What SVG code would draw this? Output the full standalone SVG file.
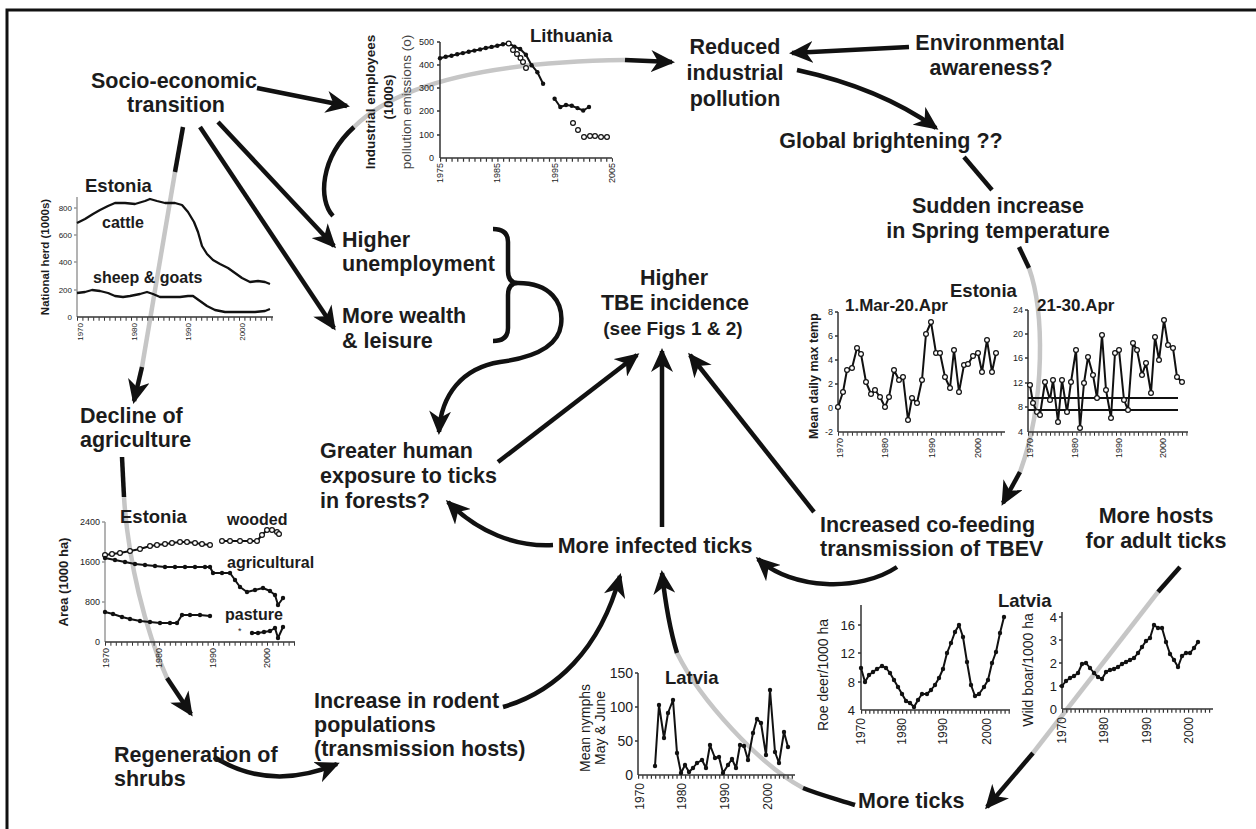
<svg xmlns="http://www.w3.org/2000/svg" width="1256" height="829" viewBox="0 0 1256 829">
<style>
text{font-family:'Liberation Sans',Arial,Helvetica,sans-serif;fill:#1c1c1c}
.n{font-size:21.5px;font-weight:bold}
.m{text-anchor:middle}
.e{text-anchor:end}
.ct{font-size:18.5px;font-weight:bold}
.sl{font-size:16px;font-weight:bold}
.t8{font-size:8px}
.t9{font-size:9px}
.t12{font-size:12px}
.t13{font-size:13px}
.t14{font-size:14px}
.b{font-weight:bold}
.k{fill:none;stroke:#111;stroke-width:4.5}
.g{fill:none;stroke:#c6c6c6;stroke-width:4.5}
.ax{fill:none;stroke:#333;stroke-width:1.5}
.axg{fill:none;stroke:#9a9a9a;stroke-width:1.5}
.tick{fill:none;stroke:#333;stroke-width:3.5}
.s{fill:none;stroke:#111;stroke-width:2.3;stroke-linejoin:round}
.sd{fill:none;stroke:#111;stroke-width:2;stroke-linejoin:round;marker-start:url(#dot);marker-mid:url(#dot);marker-end:url(#dot)}
.sr{fill:none;stroke:#111;stroke-width:2;stroke-linejoin:round;marker-start:url(#ring);marker-mid:url(#ring);marker-end:url(#ring)}
.ro{fill:none;stroke:none;marker-start:url(#ring);marker-mid:url(#ring);marker-end:url(#ring)}
</style>
<defs>
<marker id="ah" markerUnits="userSpaceOnUse" markerWidth="24" markerHeight="22" viewBox="0 0 24 22" refX="21" refY="11" orient="auto"><path d="M0,0 L24,11 L0,22 L7,11 z" fill="#111"/></marker>
<marker id="dot" markerUnits="userSpaceOnUse" markerWidth="6" markerHeight="6" viewBox="-3 -3 6 6" refX="0" refY="0"><circle r="2.2" fill="#111"/></marker>
<marker id="ring" markerUnits="userSpaceOnUse" markerWidth="8" markerHeight="8" viewBox="-4 -4 8 8" refX="0" refY="0"><circle r="2.4" fill="#fff" stroke="#111" stroke-width="1.2"/></marker>
</defs>

<g id="frame"><path d="M7,829 V10 H1256" fill="none" stroke="#111" stroke-width="3"/></g>

<g id="connectors">
<path class="g" d="M175,172 L142,367"/>
<path class="g" d="M354,127 C395,86 480,62 625,60"/>
<path class="g" d="M1029,268 C1044,310 1046,400 1020,472"/>
<path class="g" d="M124,497 C128,560 145,630 167,678"/>
<path class="g" d="M803,788 C760,765 700,700 677,653"/>
<path class="g" d="M1158,592 L1033,753"/>
<path class="k" d="M257,88 L347,106" marker-end="url(#ah)"/>
<path class="k" d="M183,127 L175,172"/>
<path class="k" d="M142,367 L134,401" marker-end="url(#ah)"/>
<path class="k" d="M218,122 L334,246" marker-end="url(#ah)"/>
<path class="k" d="M200,127 L334,328" marker-end="url(#ah)"/>
<path class="k" d="M333,216 C318,200 320,158 354,127"/>
<path class="k" d="M625,60 L672,62" marker-end="url(#ah)"/>
<path class="k" d="M909,47 L792,53" marker-end="url(#ah)"/>
<path class="k" d="M797,70 Q880,88 936,128" marker-end="url(#ah)"/>
<path class="k" d="M964,157 L992,190"/>
<path class="k" d="M1019,247 L1029,268"/>
<path class="k" d="M1020,472 L1003,503" marker-end="url(#ah)"/>
<path class="k" d="M493,229 Q508,229 508,242 V271 Q508,283 518,283 Q508,283 508,295 V328 Q508,341 493,341" stroke-width="4"/>
<path class="k" d="M518,283 C550,283 564,302 561,325 C558,348 530,358 500,362 C462,368 441,395 439,432" marker-end="url(#ah)"/>
<path class="k" d="M498,462 L637,355" marker-end="url(#ah)"/>
<path class="k" d="M662,527 L662,351" marker-end="url(#ah)"/>
<path class="k" d="M814,512 L690,355" marker-end="url(#ah)"/>
<path class="k" d="M553,545 C515,547 478,532 448,502" marker-end="url(#ah)"/>
<path class="k" d="M897,567 C860,592 792,590 758,559" marker-end="url(#ah)"/>
<path class="k" d="M503,707 C555,692 600,650 620,576" marker-end="url(#ah)"/>
<path class="k" d="M855,805 C840,800 820,795 803,788"/>
<path class="k" d="M677,653 C670,630 665,600 662,573" marker-end="url(#ah)"/>
<path class="k" d="M1180,567 L1158,592"/>
<path class="k" d="M1033,753 L987,807" marker-end="url(#ah)"/>
<path class="k" d="M122,457 L124,497"/>
<path class="k" d="M167,678 L191,714" marker-end="url(#ah)"/>
<path class="k" d="M214,757 Q270,792 337,764" marker-end="url(#ah)"/>
</g>

<g id="chart-cattle">
<path class="axg" d="M77,197 V317 M74,208 H77 M74,235 H77 M74,262 H77 M74,290 H77"/>
<path class="ax" d="M77,317 H273"/>
<path class="tick" d="M77,319 H273" stroke-dasharray="1 4.4"/>
<text class="t8 e" x="72" y="211">800</text>
<text class="t8 e" x="72" y="238">600</text>
<text class="t8 e" x="72" y="265">400</text>
<text class="t8 e" x="72" y="293">200</text>
<text class="t8 e" x="72" y="320">0</text>
<text class="t8 e" transform="translate(80,323) rotate(-90)" dy="0.35em">1970</text>
<text class="t8 e" transform="translate(134,323) rotate(-90)" dy="0.35em">1980</text>
<text class="t8 e" transform="translate(188,323) rotate(-90)" dy="0.35em">1990</text>
<text class="t8 e" transform="translate(242,323) rotate(-90)" dy="0.35em">2000</text>
<text class="b m" font-size="11.5" transform="translate(45,257) rotate(-90)" dy="0.35em">National herd (1000s)</text>
<text class="ct" x="85" y="192">Estonia</text>
<text class="sl" x="102" y="228">cattle</text>
<text class="sl" x="93" y="283">sheep &amp; goats</text>
<polyline class="s" stroke-width="2.6" points="77,223 85,219 93,214 100,210 108,206 115,203 125,203 135,204 145,201 150,199 157,201 165,203 175,203 182,205 188,212 194,222 198,232 202,246 207,254 213,260 220,264 228,268 235,273 242,278 250,282 258,281 265,282 270,284"/>
<polyline class="s" stroke-width="2.6" points="77,293 85,292 92,290 100,291 108,293 115,296 123,297 130,296 140,294 147,292 153,294 160,297 170,297 180,297 188,296 193,296 200,301 207,306 215,310 225,312 240,312 255,312 265,311 270,309"/>
</g>

<g id="chart-land">
<path class="axg" d="M105,522 V642 M102,522 H105 M102,562 H105 M102,602 H105"/>
<path class="ax" d="M105,642 H295"/>
<path class="tick" d="M105,644 H295" stroke-dasharray="1 4.4"/>
<text class="t9 e" x="100" y="525">2400</text>
<text class="t9 e" x="100" y="565">1600</text>
<text class="t9 e" x="100" y="605">800</text>
<text class="t9 e" x="100" y="645">0</text>
<text class="t9 e" transform="translate(106,648) rotate(-90)" dy="0.35em">1970</text>
<text class="t9 e" transform="translate(159,648) rotate(-90)" dy="0.35em">1980</text>
<text class="t9 e" transform="translate(213,648) rotate(-90)" dy="0.35em">1990</text>
<text class="t9 e" transform="translate(267,648) rotate(-90)" dy="0.35em">2000</text>
<text class="b m" font-size="13" transform="translate(63,582) rotate(-90)" dy="0.35em">Area (1000 ha)</text>
<text class="ct" x="120" y="523">Estonia</text>
<text class="sl" x="227" y="525">wooded</text>
<text class="sl" x="227" y="568">agricultural</text>
<text class="sl" x="225" y="620">pasture</text>
<text class="t9" x="238" y="634">*</text>
<polyline class="sr" stroke-width="1.5" points="105,555 112,554 120,553 130,551 140,549 150,546 157,545 165,544 172,543 180,542 187,542 195,543 202,544 210,545"/>
<polyline class="sr" stroke-width="1.5" points="222,541 230,541 240,541 250,541 257,541 262,535 267,530 272,530 277,532 279,534"/>
<polyline class="sd" points="105,558 115,560 125,562 135,564 145,565 155,566 165,567 175,567 185,567 195,567 205,567 210,567 213,573 222,573 230,573 235,580 240,587 247,592 255,590 263,588 270,591 275,595 278,605 283,598"/>
<polyline class="sd" points="105,612 113,614 122,617 130,619 140,621 150,622 160,623 170,623 177,623 182,615 190,615 200,615 210,616"/>
<polyline class="sd" points="252,633 258,633 264,632 270,631 275,628 278,638 283,627"/>
</g>

<g id="chart-lithuania">
<path class="ax" d="M440,42 V158 M437,42 H440 M437,65 H440 M437,88 H440 M437,111 H440 M437,135 H440"/>
<path class="ax" d="M440,158 H612"/>
<path class="tick" d="M440,160 H613" stroke-dasharray="1.2 4.53"/>
<text class="t9 e" x="434" y="45">500</text>
<text class="t9 e" x="434" y="68">400</text>
<text class="t9 e" x="434" y="91">300</text>
<text class="t9 e" x="434" y="114">200</text>
<text class="t9 e" x="434" y="138">100</text>
<text class="t9 e" x="434" y="161">0</text>
<text class="t9 e" transform="translate(440,163) rotate(-90)" dy="0.35em">1975</text>
<text class="t9 e" transform="translate(497,163) rotate(-90)" dy="0.35em">1985</text>
<text class="t9 e" transform="translate(555,163) rotate(-90)" dy="0.35em">1995</text>
<text class="t9 e" transform="translate(612,163) rotate(-90)" dy="0.35em">2005</text>
<text class="b m" font-size="13.5" transform="translate(370,102) rotate(-90)" dy="0.35em">Industrial employees</text>
<text class="b m" font-size="13" transform="translate(388,97) rotate(-90)" dy="0.35em">(1000s)</text>
<text class="m" font-size="13.5" transform="translate(406,102) rotate(-90)" dy="0.35em" style="fill:#444">pollution emissions  (o)</text>
<text class="ct" font-size="19" x="530" y="42">Lithuania</text>
<polyline class="sd" points="440,58.2 445.7,56.8 451.5,55.7 457.2,54.3 462.9,53.1 468.7,51.7 474.4,50.6 480.1,49.4 485.8,48 491.6,46.9 497.3,45.7 503,44.3 508.7,43.2 514.4,46.6 520.2,49 525.9,54.8 531.6,65.2 537.4,72.2 543.1,83.8"/>
<polyline class="sd" points="554.6,98.8 560.3,107 566,105 571.8,105.8 577.5,108.1 583.2,110.5 589,107"/>
<polyline class="ro" points="508.7,43.5 513,50 517,54 520.5,58 523,62 526,68"/>
<polyline class="ro" points="573,123 578,130 584,137 590,136 595,136 601,137 607,137"/>
</g>

<g id="chart-temperature">
<path class="ax" d="M838,312 V432 M835,312 H838 M835,336 H838 M835,360 H838 M835,384 H838 M835,408 H838"/>
<path class="ax" d="M838,432 H1005"/>
<path class="tick" d="M838,434 H1005" stroke-dasharray="1 3.65"/>
<text class="t9 e" x="833" y="315">8</text>
<text class="t9 e" x="833" y="339">6</text>
<text class="t9 e" x="833" y="363">4</text>
<text class="t9 e" x="833" y="387">2</text>
<text class="t9 e" x="833" y="411">0</text>
<text class="t9 e" x="833" y="435">-2</text>
<text class="t9 e" transform="translate(840,438) rotate(-90)" dy="0.35em">1970</text>
<text class="t9 e" transform="translate(885,438) rotate(-90)" dy="0.35em">1980</text>
<text class="t9 e" transform="translate(932,438) rotate(-90)" dy="0.35em">1990</text>
<text class="t9 e" transform="translate(978,438) rotate(-90)" dy="0.35em">2000</text>
<text class="b m" font-size="12.5" transform="translate(814,376) rotate(-90)" dy="0.35em">Mean daily max temp</text>
<text class="b" font-size="17" x="845" y="311">1.Mar-20.Apr</text>
<text class="ct" x="950" y="297">Estonia</text>
<polyline class="sr" stroke-width="2.4" points="838,407 843,392 847,370 852,368 857,348 861,354 866,382 871,394 875,390 880,397 885,407 889,397 894,370 899,380 903,377 908,420 912,398 917,403 922,380 926,334 931,322 936,353 940,353 945,377 950,388 954,350 959,392 964,365 968,364 973,356 978,353 982,372 987,340 992,372 996,353"/>
<path class="ax" d="M1028,310 V432 M1025,310 H1028 M1025,334 H1028 M1025,358 H1028 M1025,383 H1028 M1025,407 H1028"/>
<path class="ax" d="M1028,432 H1188"/>
<path class="tick" d="M1028,434 H1188" stroke-dasharray="1 3.4"/>
<path fill="none" stroke="#111" stroke-width="1.8" d="M1028,398 H1178 M1028,410 H1178"/>
<text class="t9 e" x="1023" y="313">24</text>
<text class="t9 e" x="1023" y="337">20</text>
<text class="t9 e" x="1023" y="361">16</text>
<text class="t9 e" x="1023" y="386">12</text>
<text class="t9 e" x="1023" y="410">8</text>
<text class="t9 e" x="1023" y="435">4</text>
<text class="t9 e" transform="translate(1030,438) rotate(-90)" dy="0.35em">1970</text>
<text class="t9 e" transform="translate(1075,438) rotate(-90)" dy="0.35em">1980</text>
<text class="t9 e" transform="translate(1119,438) rotate(-90)" dy="0.35em">1990</text>
<text class="t9 e" transform="translate(1163,438) rotate(-90)" dy="0.35em">2000</text>
<text class="b" font-size="17" x="1037" y="311">21-30.Apr</text>
<polyline class="sr" stroke-width="2.4" points="1030,385 1033,403 1037,412 1040,415 1045,382 1050,400 1053,380 1058,422 1062,380 1067,412 1071,382 1076,350 1080,428 1084,383 1088,357 1093,375 1097,398 1102,335 1106,390 1111,418 1115,353 1119,350 1124,400 1128,410 1133,343 1137,350 1142,375 1146,363 1151,393 1155,337 1159,360 1164,320 1168,345 1173,348 1177,377 1182,382"/>
</g>

<g id="chart-nymphs">
<path class="ax" d="M638,673 V775 M635,673 H638 M635,707 H638 M635,741 H638"/>
<path class="ax" d="M638,775 H795"/>
<path class="tick" d="M638,777 H795" stroke-dasharray="1.2 3.07"/>
<text class="t14 e" x="633" y="678">150</text>
<text class="t14 e" x="633" y="712">100</text>
<text class="t14 e" x="633" y="746">50</text>
<text class="t14 e" x="633" y="780">0</text>
<text class="t12 e" transform="translate(640,783) rotate(-90)" dy="0.35em">1970</text>
<text class="t12 e" transform="translate(682,783) rotate(-90)" dy="0.35em">1980</text>
<text class="t12 e" transform="translate(725,783) rotate(-90)" dy="0.35em">1990</text>
<text class="t12 e" transform="translate(768,783) rotate(-90)" dy="0.35em">2000</text>
<text class="t14 m" transform="translate(585,728) rotate(-90)" dy="0.35em">Mean nymphs</text>
<text class="t14 m" transform="translate(600,728) rotate(-90)" dy="0.35em">May &amp; June</text>
<text class="ct" x="665" y="684">Latvia</text>
<polyline class="sd" points="655,766 659,705 664,738 668,713 673,700 677,753 681,773 685,765 689,772 693,768 697,763 702,760 706,768 710,745 715,758 719,757 723,773 728,765 732,759 736,768 740,745 744,746 748,760 753,733 757,719 761,723 766,755 770,690 775,752 779,763 784,732 788,747"/>
</g>

<g id="chart-deer-boar">
<text class="ct" x="998" y="607">Latvia</text>
<path class="ax" d="M861,605 V710 M858,625 H861 M858,653 H861 M858,682 H861"/>
<path class="ax" d="M861,710 H1010"/>
<path class="tick" d="M861,712 H1010" stroke-dasharray="1.2 2.9"/>
<text class="t13 e" x="855" y="630">16</text>
<text class="t13 e" x="855" y="658">12</text>
<text class="t13 e" x="855" y="687">8</text>
<text class="t13 e" x="855" y="715">4</text>
<text class="t12 e" transform="translate(861,718) rotate(-90)" dy="0.35em">1970</text>
<text class="t12 e" transform="translate(902,718) rotate(-90)" dy="0.35em">1980</text>
<text class="t12 e" transform="translate(943,718) rotate(-90)" dy="0.35em">1990</text>
<text class="t12 e" transform="translate(987,718) rotate(-90)" dy="0.35em">2000</text>
<text class="t14 m" transform="translate(823,675) rotate(-90)" dy="0.35em">Roe deer/1000 ha</text>
<polyline class="sd" points="861,668 865,682 869,675 873,672 877,669 882,666 886,668 890,673 894,680 898,687 902,694 906,701 910,703 914,707 918,700 922,694 927,694 931,690 935,685 939,678 943,669 947,653 951,643 955,632 959,625 963,637 967,662 971,685 975,696 979,694 984,687 988,680 992,663 996,652 1000,633 1004,617"/>
<path class="ax" d="M1062,612 V709 M1059,617 H1062 M1059,640 H1062 M1059,663 H1062 M1059,686 H1062"/>
<path class="ax" d="M1062,709 H1213"/>
<path class="tick" d="M1062,711 H1213" stroke-dasharray="1.2 3"/>
<text class="t13 e" x="1057" y="622">4</text>
<text class="t13 e" x="1057" y="645">3</text>
<text class="t13 e" x="1057" y="668">2</text>
<text class="t13 e" x="1057" y="691">1</text>
<text class="t13 e" x="1057" y="714">0</text>
<text class="t12 e" transform="translate(1062,717) rotate(-90)" dy="0.35em">1970</text>
<text class="t12 e" transform="translate(1104,717) rotate(-90)" dy="0.35em">1980</text>
<text class="t12 e" transform="translate(1147,717) rotate(-90)" dy="0.35em">1990</text>
<text class="t12 e" transform="translate(1189,717) rotate(-90)" dy="0.35em">2000</text>
<text class="t14 m" transform="translate(1028,670) rotate(-90)" dy="0.35em">Wild boar/1000 ha</text>
<polyline class="sd" points="1062,686 1066,681 1070,678 1074,676 1078,673 1082,664 1086,663 1090,668 1094,673 1098,677 1102,679 1106,672 1110,670 1114,669 1118,667 1122,664 1126,662 1130,660 1134,658 1138,653 1142,647 1146,641 1150,638 1154,625 1158,628 1162,628 1166,642 1170,654 1174,660 1178,667 1182,656 1186,653 1190,653 1194,648 1198,642"/>
</g>

<g id="node-socio" class="n m"><text x="174" y="88">Socio-economic</text><text x="176" y="112">transition</text></g>
<g id="node-reduced" class="n m"><text x="735" y="54">Reduced</text><text x="735" y="80">industrial</text><text x="735" y="106">pollution</text></g>
<g id="node-environmental" class="n m"><text x="990" y="50">Environmental</text><text x="991" y="75">awareness?</text></g>
<g id="node-global" class="n m"><text x="891" y="148">Global brightening ??</text></g>
<g id="node-spring" class="n m"><text x="998" y="213">Sudden increase</text><text x="998" y="238">in Spring temperature</text></g>
<g id="node-unemployment" class="n"><text x="342" y="247">Higher</text><text x="342" y="271">unemployment</text></g>
<g id="node-wealth" class="n"><text x="342" y="323">More wealth</text><text x="342" y="348">&amp; leisure</text></g>
<g id="node-tbe" class="n m"><text x="674" y="285">Higher</text><text x="675" y="310">TBE incidence</text><text x="673" y="335" font-size="19">(see Figs 1 &amp; 2)</text></g>
<g id="node-exposure" class="n"><text x="320" y="458">Greater human</text><text x="320" y="483">exposure to ticks</text><text x="320" y="508">in forests?</text></g>
<g id="node-infected" class="n m"><text x="655" y="553">More infected ticks</text></g>
<g id="node-cofeeding" class="n"><text x="820" y="532">Increased co-feeding</text><text x="820" y="556">transmission of TBEV</text></g>
<g id="node-hosts" class="n m"><text x="1156" y="523">More hosts</text><text x="1156" y="548">for adult ticks</text></g>
<g id="node-ticks" class="n"><text x="858" y="808">More ticks</text></g>
<g id="node-agriculture" class="n"><text x="80" y="423">Decline of</text><text x="80" y="447">agriculture</text></g>
<g id="node-shrubs" class="n"><text x="114" y="762">Regeneration of</text><text x="114" y="786">shrubs</text></g>
<g id="node-rodents" class="n"><text x="314" y="708">Increase in rodent</text><text x="314" y="732">populations</text><text x="314" y="756">(transmission hosts)</text></g>
</svg>
